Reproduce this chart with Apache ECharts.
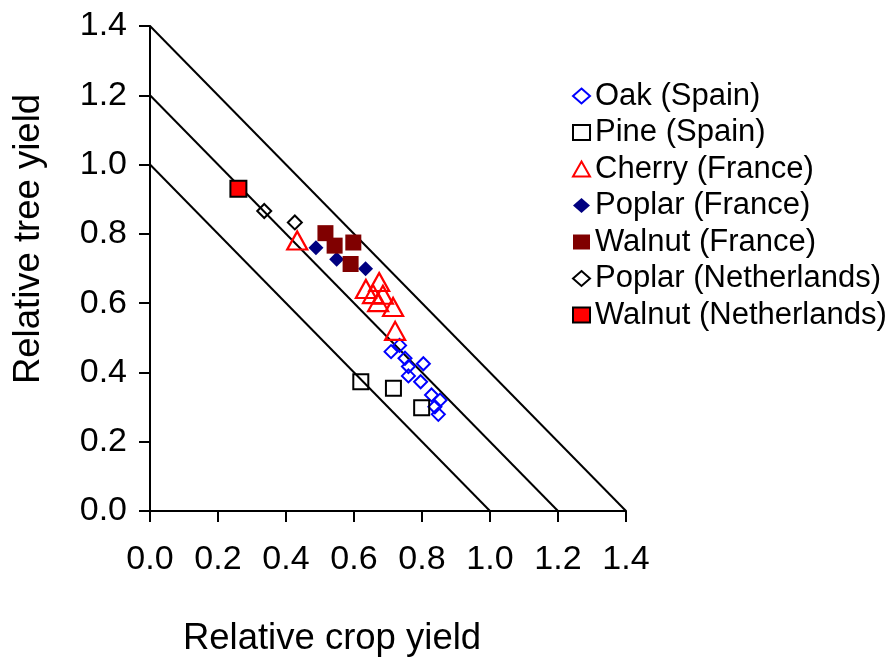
<!DOCTYPE html>
<html>
<head>
<meta charset="utf-8">
<script src="https://cdn.jsdelivr.net/npm/echarts@6/dist/echarts.min.js"></script>
<style>
html,body{margin:0;padding:0;background:#fff;}
#chart{width:892px;height:659px;}
</style>
</head>
<body>
<div id="chart"></div>
<script>
// ---- data ----
var xTicks = [0.0, 0.2, 0.4, 0.6, 0.8, 1.0, 1.2, 1.4];
var yTicks = [0.0, 0.2, 0.4, 0.6, 0.8, 1.0, 1.2, 1.4];
var totals = [1.0, 1.2, 1.4];

var oakX = [0.709, 0.734, 0.750, 0.760, 0.804, 0.760, 0.796, 0.828, 0.853, 0.838, 0.848];
var oakY = [0.460, 0.478, 0.441, 0.417, 0.425, 0.390, 0.373, 0.335, 0.320, 0.301, 0.279];
var pineX = [0.620, 0.716, 0.799];
var pineY = [0.373, 0.354, 0.298];
var cherryX = [0.433, 0.674, 0.635, 0.656, 0.685, 0.671, 0.715, 0.721];
var cherryY = [0.781, 0.661, 0.641, 0.626, 0.624, 0.603, 0.589, 0.520];
var poplarFrX = [0.488, 0.549, 0.634];
var poplarFrY = [0.760, 0.727, 0.699];
var walnutFrX = [0.516, 0.543, 0.598, 0.590];
var walnutFrY = [0.802, 0.766, 0.775, 0.713];
var poplarNlX = [0.336, 0.426];
var poplarNlY = [0.866, 0.833];
var walnutNlX = [0.260];
var walnutNlY = [0.930];

var names = ['Oak (Spain)', 'Pine (Spain)', 'Cherry (France)', 'Poplar (France)',
             'Walnut (France)', 'Poplar (Netherlands)', 'Walnut (Netherlands)'];

function pairs(xs, ys) { return xs.map(function (x, i) { return [x, ys[i]]; }); }

var FONT = "'Liberation Sans', Arial, sans-serif";
var chart = echarts.init(document.getElementById('chart'), null, {renderer: 'canvas'});

var series = [];
totals.forEach(function (t) {
  series.push({
    type: 'line', data: [[0, t], [t, 0]], symbol: 'none', silent: true,
    lineStyle: {color: '#000', width: 2}, z: 1, animation: false
  });
});

function scat(name, xs, ys, symbol, size, fill, border, bw) {
  return {
    name: name, type: 'scatter', data: pairs(xs, ys), symbol: symbol, symbolSize: size,
    symbolKeepAspect: true,
    itemStyle: {color: fill, borderColor: border, borderWidth: bw, opacity: 1},
    z: 3, animation: false
  };
}

series.push(scat(names[0], oakX, oakY, 'diamond', 13, 'rgba(255,255,255,0)', '#0000FF', 2));
series.push(scat(names[1], pineX, pineY, 'rect', 15, 'rgba(255,255,255,0)', '#000000', 2));
series.push(scat(names[2], cherryX, cherryY, 'triangle', [20, 18], 'rgba(255,255,255,0)', '#FF0000', 2.2));
series.push(scat(names[3], poplarFrX, poplarFrY, 'diamond', 15, '#000080', '#000080', 0));
series.push(scat(names[4], walnutFrX, walnutFrY, 'rect', 16, '#800000', '#800000', 0));
series.push(scat(names[5], poplarNlX, poplarNlY, 'diamond', 14, 'rgba(255,255,255,0)', '#000000', 2));
series.push(scat(names[6], walnutNlX, walnutNlY, 'rect', 16, '#FF0000', '#000000', 2));

var option = {
  backgroundColor: '#fff',
  animation: false,
  grid: {left: 150, top: 26, width: 476, height: 485, containLabel: false},
  xAxis: {
    type: 'value', min: 0, max: 1.4, interval: 0.2,
    axisLine: {show: true, lineStyle: {color: '#000', width: 2}},
    axisTick: {show: true, inside: false, length: 11, lineStyle: {color: '#000', width: 2}},
    splitLine: {show: false},
    axisLabel: {
      margin: 32, color: '#000', fontSize: 34, fontFamily: FONT,
      formatter: function (v) { return v.toFixed(1); }
    }
  },
  yAxis: {
    type: 'value', min: 0, max: 1.4, interval: 0.2,
    axisLine: {show: true, lineStyle: {color: '#000', width: 2}},
    axisTick: {show: true, inside: false, length: 11, lineStyle: {color: '#000', width: 2}},
    splitLine: {show: false},
    axisLabel: {
      margin: 23, color: '#000', fontSize: 34, fontFamily: FONT,
      formatter: function (v) { return v.toFixed(1); }
    }
  },
  legend: {
    data: names,
    orient: 'vertical',
    left: 567, top: 73,
    itemWidth: 17, itemHeight: 15,
    itemGap: 0.5,
    textStyle: {color: '#000', fontSize: 31, fontFamily: FONT, lineHeight: 36},
    selectedMode: false
  },
  graphic: [
    {
      type: 'text', x: 332, y: 639,
      style: {text: 'Relative crop yield', font: '36.5px ' + FONT, fill: '#000',
              textAlign: 'center', textVerticalAlign: 'middle'}
    },
    {
      type: 'text', x: 29, y: 239, rotation: Math.PI / 2,
      style: {text: 'Relative tree yield', font: '36.5px ' + FONT, fill: '#000',
              textAlign: 'center', textVerticalAlign: 'middle'}
    }
  ],
  series: series
};
chart.setOption(option);
</script>
</body>
</html>
